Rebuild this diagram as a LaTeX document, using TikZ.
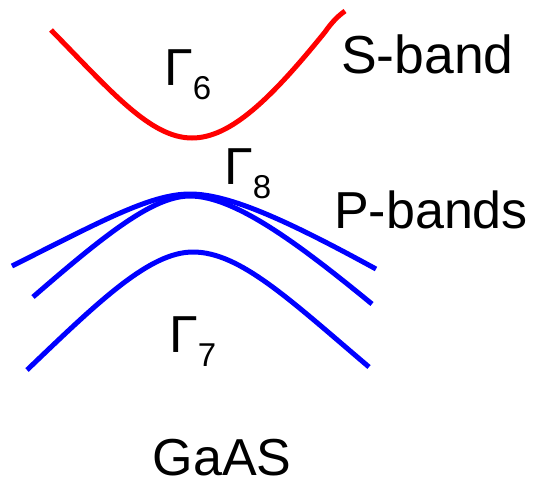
\documentclass[tikz,border=0pt]{standalone}
\usepackage{fontspec}
\setmainfont{Liberation Sans}
\tikzset{
  band/.style={line width=5pt, line cap=butt},
  sband/.style={band, draw={rgb,255:red,255;green,0;blue,0}},
  pband/.style={band, draw={rgb,255:red,0;green,0;blue,255}},
  lbl/.style={anchor=base west, inner sep=0pt, font=\fontsize{52}{60}\selectfont},
}
\newcommand{\gsub}[1]{\raisebox{-14pt}{\fontsize{33}{33}\selectfont #1}}
\begin{document}
\begin{tikzpicture}[x=1pt,y=-1pt]
\useasboundingbox (0,0) rectangle (537,485);
% S band (Gamma 6)
\draw[sband] (51,30) .. controls (110,90) and (150,138) .. (192,138)
  .. controls (230,138) and (270,100) .. (325,32)
  .. controls (332,22) and (338,16) .. (345,11);
% P bands (Gamma 8)
\draw[pband] (12,266) .. controls (100,222) and (150,194) .. (190,194)
  .. controls (230,194) and (290,222) .. (376,269);
\draw[pband] (33,297) .. controls (110,230) and (155,196) .. (190,196)
  .. controls (235,196) and (300,245) .. (372,304);
% split-off band (Gamma 7)
\draw[pband] (27,370) .. controls (100,300) and (150,252) .. (193,252)
  .. controls (240,252) and (290,300) .. (369,367);
% labels
\node[lbl] (g6) at (164,85) {Γ\gsub{6}};
\node[lbl] (g8) at (224,184) {Γ\gsub{8}};
\node[lbl] (g7) at (169,352) {Γ\gsub{7}};
\node[lbl, font=\fontsize{53.5}{60}\selectfont] (sb) at (341,73) {S-band};
\node[lbl] (pb) at (334,228) {P-bands};
\node[lbl, anchor=base] (ga) at (222,475) {GaAS};
\end{tikzpicture}
\end{document}
